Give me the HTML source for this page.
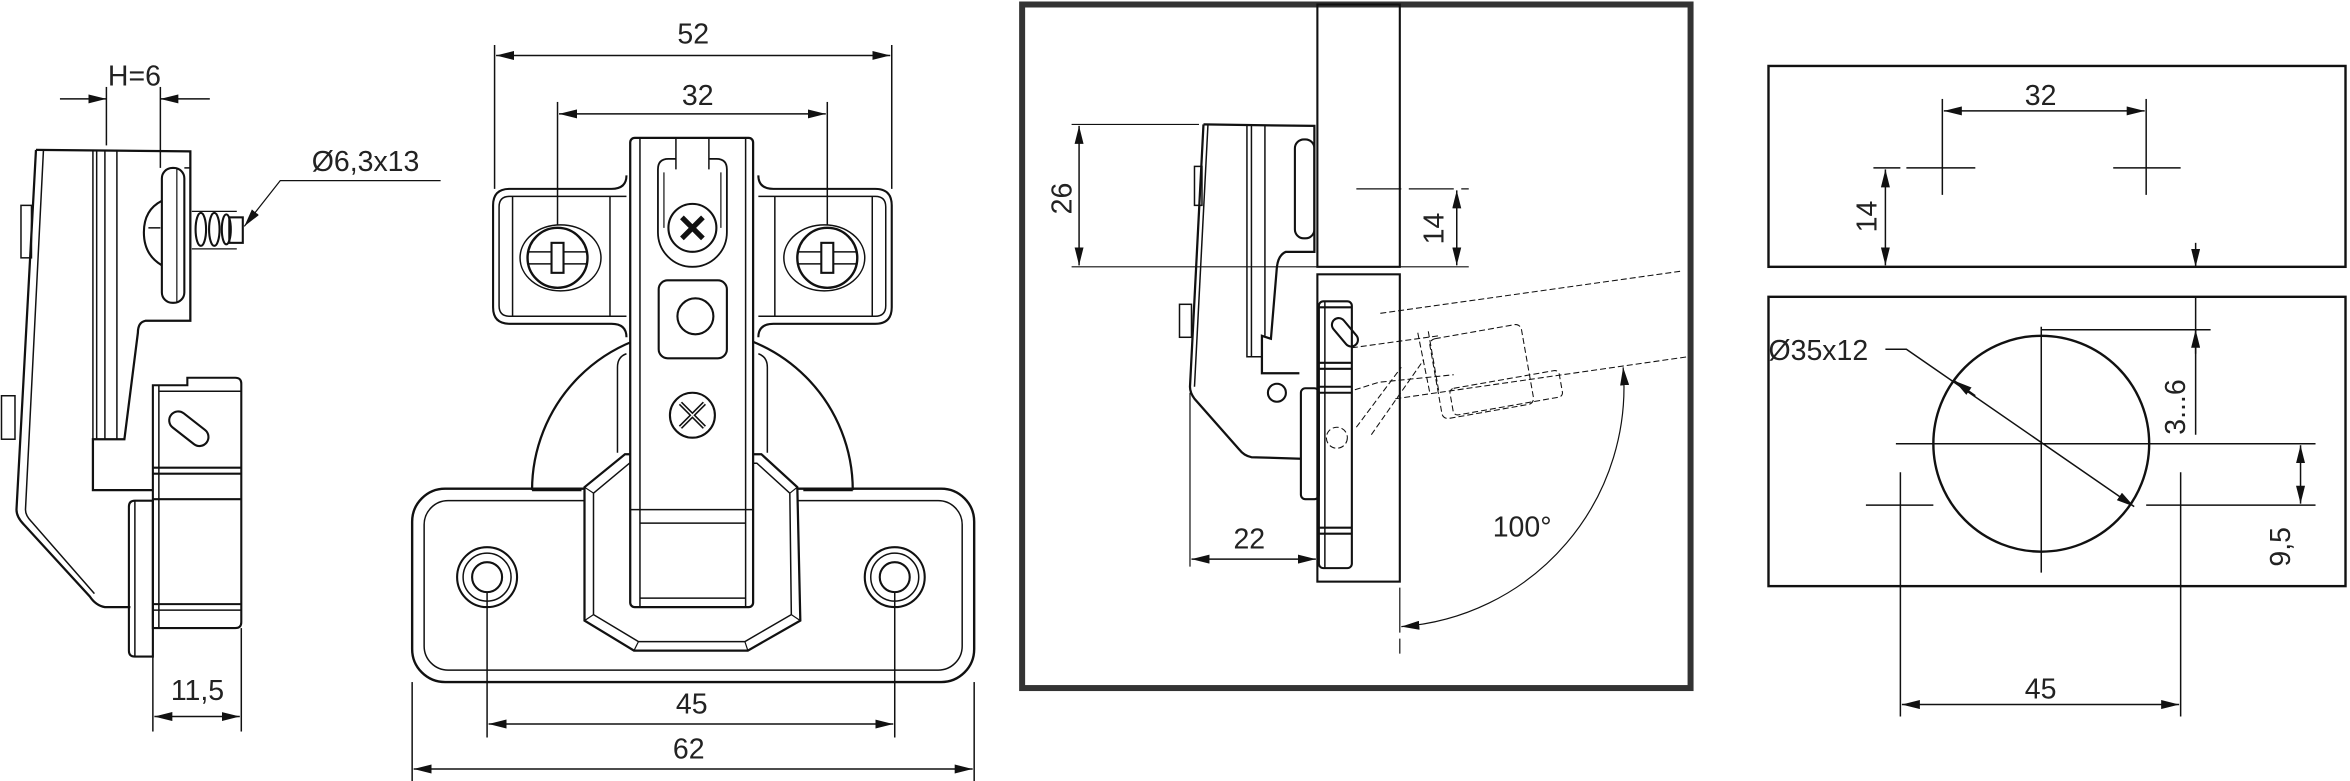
<!DOCTYPE html>
<html><head><meta charset="utf-8"><style>
html,body{margin:0;padding:0;background:#fff;}
svg{display:block;}
text{font-family:"Liberation Sans","DejaVu Sans",sans-serif;fill:#222;}
</style></head><body>
<svg width="2350" height="781" viewBox="0 0 1568 521" preserveAspectRatio="none" xmlns="http://www.w3.org/2000/svg">
<defs>
<marker id="a" viewBox="0 0 12 6" refX="12" refY="3" markerWidth="12" markerHeight="6" orient="auto-start-reverse" markerUnits="userSpaceOnUse"><path d="M0,0L12,3L0,6z" fill="#111"/></marker>
</defs>
<g fill="none" stroke="#111" stroke-width="1.4">
<!-- LEFT SIDE VIEW -->
<line x1="71" y1="58" x2="71" y2="97" stroke-width="1"/>
<line x1="107" y1="58" x2="107" y2="112" stroke-width="1"/>
<line x1="40" y1="66" x2="71" y2="66" marker-end="url(#a)" stroke-width="1"/>
<line x1="140" y1="66" x2="107" y2="66" marker-end="url(#a)" stroke-width="1"/>
<path d="M24,100 L127,101 L127,214 L97,214 Q92,215 92,222 L83,293 L62,293 L62,327 L102,327" stroke-width="1.5"/>
<path d="M24,100 L11,340 Q11,345 16,350 L60,398 Q64,404 70,405 L87,405" stroke-width="1.5"/>
<path d="M29,100 L17,340 Q17,344 21,348 L63,396" stroke-width="1"/>
<path d="M62,100 L62,293 M64.5,100 L64.5,293 M70,100 L70,293 M78,100 L78,293 L83,293" stroke-width="1"/>
<rect x="108" y="112" width="15" height="90" rx="7"/>
<line x1="118" y1="112" x2="118" y2="202" stroke-width="0.8"/>
<line x1="123" y1="112" x2="127" y2="112" stroke-width="1"/>
<path d="M108,134 Q96,140 96,155 Q96,170 108,177" />
<path d="M99,152 L107,152" stroke-width="1"/>
<path d="M128,141 L158,141 M128,166 L158,166" stroke-width="0.8"/>
<ellipse cx="134" cy="153" rx="3.5" ry="11"/><ellipse cx="143" cy="153" rx="3.5" ry="11"/><ellipse cx="151" cy="153" rx="3" ry="10"/>
<rect x="153" y="145" width="9" height="17"/>
<rect x="14" y="137" width="7" height="35" stroke-width="1"/>
<rect x="1" y="264" width="9" height="29" stroke-width="1"/>
<path d="M102,257 L125,257 L125,252 L157,252 Q161,252 161,256 L161,415 Q161,419 157,419 L102,419 Z"/>
<line x1="106" y1="257" x2="106" y2="419" stroke-width="1"/>
<line x1="106" y1="261" x2="161" y2="261" stroke-width="1"/>
<line x1="102" y1="312" x2="161" y2="312"/><line x1="102" y1="316" x2="161" y2="316"/>
<line x1="102" y1="333" x2="161" y2="333"/>
<line x1="102" y1="403" x2="161" y2="403"/><line x1="102" y1="407" x2="161" y2="407" stroke-width="1"/>
<rect x="111" y="280" width="30" height="12" rx="6" transform="rotate(38,126,286)"/>
<path d="M102,334 L90,334 Q86,334 86,338 L86,434 Q86,438 90,438 L102,438 Z"/>
<line x1="90" y1="334" x2="90" y2="438" stroke-width="1"/>
<line x1="102" y1="419" x2="102" y2="488" stroke-width="1"/>
<line x1="161" y1="419" x2="161" y2="488" stroke-width="1"/>
<line x1="103" y1="478" x2="160" y2="478" marker-start="url(#a)" marker-end="url(#a)" stroke-width="1"/>
<path d="M294,120.5 L187,120.5 L163,151" stroke-width="0.8" marker-end="url(#a)"/>

<!-- MIDDLE FRONT VIEW -->
<line x1="330" y1="30" x2="330" y2="126" stroke-width="1"/>
<line x1="595" y1="30" x2="595" y2="126" stroke-width="1"/>
<line x1="331" y1="37" x2="594" y2="37" marker-start="url(#a)" marker-end="url(#a)" stroke-width="1"/>
<line x1="372" y1="68" x2="372" y2="150" stroke-width="1"/>
<line x1="552" y1="68" x2="552" y2="150" stroke-width="1"/>
<line x1="373" y1="76" x2="551" y2="76" marker-start="url(#a)" marker-end="url(#a)" stroke-width="1"/>
<path d="M355,327 A107,107 0 0 1 569,327" stroke-width="1.5"/>
<path d="M412,302 L412,245 Q412,238 418,236 M512,302 L512,245 Q512,238 506,236" stroke-width="1"/>
<path d="M418,117 Q418,126 408,126 L340,126 Q329,126 329,137 L329,205 Q329,216 340,216 L408,216 Q418,216 418,225"/>
<path d="M506,117 Q506,126 516,126 L584,126 Q595,126 595,137 L595,205 Q595,216 584,216 L516,216 Q506,216 506,225"/>
<path d="M418,131 L340,131 Q333,131 333,138 L333,204 Q333,211 340,211 L418,211 M342,131 L342,211 M407,131 L407,211" stroke-width="1"/>
<path d="M506,131 L584,131 Q591,131 591,138 L591,204 Q591,211 584,211 L506,211 M582,131 L582,211 M517,131 L517,211" stroke-width="1"/>
<ellipse cx="374" cy="172" rx="27" ry="22" stroke-width="1"/><circle cx="372" cy="172" r="20" stroke-width="1.6"/>
<line x1="352" y1="168" x2="392" y2="168" stroke-width="1"/><line x1="352" y1="176" x2="392" y2="176" stroke-width="1"/>
<rect x="368" y="162" width="8" height="20" fill="#fff" stroke-width="1.4"/>
<ellipse cx="550" cy="172" rx="27" ry="22" stroke-width="1"/><circle cx="552" cy="172" r="20" stroke-width="1.6"/>
<line x1="532" y1="168" x2="572" y2="168" stroke-width="1"/><line x1="532" y1="176" x2="572" y2="176" stroke-width="1"/>
<rect x="548" y="162" width="8" height="20" fill="#fff" stroke-width="1.4"/>
<path d="M355,327 L388,327" stroke-width="1.5"/><path d="M536,327 L569,327" stroke-width="1.5"/>
<rect x="275" y="326" width="375" height="129" rx="22" stroke-width="1.6"/>
<rect x="283" y="334" width="359" height="113" rx="16" stroke-width="1"/>
<path d="M390,325 L417,303 L508,303 L532,325 L534,414 L499,434 L423,434 L390,414 Z" fill="#fff" stroke-width="1.5"/>
<path d="M396,329 L420,309 L505,309 L527,329 L528,410 L497,428 L426,428 L396,410 Z" stroke-width="1"/>
<path d="M390,325 L396,329 M532,325 L527,329 M390,414 L396,410 M534,414 L528,410 M423,434 L426,428 M499,434 L497,428" stroke-width="0.8"/>
<rect x="420.5" y="92" width="82" height="313" rx="3" fill="#fff" stroke-width="1.5"/>
<path d="M427,92 L427,405 M497.5,92 L497.5,405" stroke-width="1"/>
<path d="M420.5,340 L502.5,340 M427,349 L497.5,349 M427,399 L497.5,399" stroke-width="1"/>
<path d="M451,92 L451,113 M473,92 L473,113" stroke-width="1"/>
<path d="M439,113 L439,155 A23,23 0 0 0 485,155 L485,113 Q485,106 478,106 L473,106 M451,106 L446,106 Q439,106 439,113" stroke-width="1.2"/>
<path d="M443,115 L443,152 M481,115 L481,152" stroke-width="0.8"/>
<circle cx="462" cy="152" r="16" fill="#fff"/>
<path d="M455,145 L469,159 M469,145 L455,159" stroke-width="3.5"/>
<rect x="439.5" y="187" width="45.5" height="52" rx="6"/>
<circle cx="464" cy="211" r="12"/>
<circle cx="462" cy="277" r="15"/>
<path d="M454,269 L470,285 M470,269 L454,285" stroke-width="3"/>
<path d="M454,269 L470,285 M470,269 L454,285" stroke="#fff" stroke-width="0.9"/>
<circle cx="325" cy="385" r="20"/><circle cx="325" cy="385" r="16" stroke-width="1"/><circle cx="325" cy="385" r="10"/>
<circle cx="597" cy="385" r="20"/><circle cx="597" cy="385" r="16" stroke-width="1"/><circle cx="597" cy="385" r="10"/>
<line x1="325" y1="395" x2="325" y2="492" stroke-width="1"/>
<line x1="597" y1="395" x2="597" y2="492" stroke-width="1"/>
<line x1="326" y1="483" x2="596" y2="483" marker-start="url(#a)" marker-end="url(#a)" stroke-width="1"/>
<line x1="275" y1="455" x2="275" y2="521" stroke-width="1"/>
<line x1="650" y1="455" x2="650" y2="521" stroke-width="1"/>
<line x1="276" y1="513" x2="649" y2="513" marker-start="url(#a)" marker-end="url(#a)" stroke-width="1"/>

<!-- BOX -->
<rect x="682" y="3" width="446" height="456" stroke="#333" stroke-width="4"/>
<rect x="879" y="3" width="55" height="175"/>
<rect x="879" y="183" width="55" height="205"/>
<path d="M803,83 L877,84 L877,168 L858,168 Q853,170 852,178 L848,226 L842,224 L842,249 L867,249" stroke-width="1.5"/>
<path d="M803,83 L794,258 Q794,262 797,266 L827,300 Q830,304 835,305 L868,306" stroke-width="1.5"/>
<path d="M806,83 L797,258" stroke-width="1"/>
<path d="M832,84 L832,238 L842,238 M835,84 L835,238 M844,84 L844,224" stroke-width="1"/>
<rect x="864" y="93" width="13" height="66" rx="6"/>
<rect x="797" y="111" width="5" height="26" stroke-width="1"/>
<rect x="787" y="203" width="8" height="22" stroke-width="1"/>
<circle cx="852" cy="262" r="6"/>
<rect x="880" y="201" width="22" height="178" rx="3"/>
<line x1="884" y1="201" x2="884" y2="379" stroke-width="1"/>
<path d="M880,205 L902,205 M880,242 L902,242 M880,246 L902,246 M880,258 L902,258 M880,262 L902,262 M880,352 L902,352 M880,356 L902,356"/>
<rect x="868" y="259" width="12" height="74" rx="3"/>
<rect x="886" y="217" width="22" height="9" rx="4.5" transform="rotate(50,897,222)"/>
<g stroke-width="0.7" stroke-dasharray="4,2">
<path d="M921,209 L1121,181 M931,266 L1126,238"/>
<path d="M902,232 L960,224 M904,260 L920,255 L970,250"/>
<rect x="958" y="221" width="62" height="54" rx="4" transform="rotate(-10,988,250)"/>
<rect x="968" y="253" width="74" height="18" rx="3" transform="rotate(-10,1005,262)"/>
<path d="M946,222 L954,262 M953,221 L960,261"/>
<path d="M905,285 L935,245 M915,290 L950,240"/>
<circle cx="892" cy="292" r="7"/>
</g>
<line x1="715" y1="83" x2="800" y2="83" stroke-width="0.8"/>
<line x1="715" y1="178" x2="980" y2="178" stroke-width="0.8"/>
<line x1="720" y1="84" x2="720" y2="177" marker-start="url(#a)" marker-end="url(#a)" stroke-width="1"/>
<line x1="905" y1="126" x2="980" y2="126" stroke-width="0.8" stroke-dasharray="30,5"/>
<line x1="972" y1="127" x2="972" y2="177" marker-start="url(#a)" marker-end="url(#a)" stroke-width="1"/>
<line x1="794" y1="262" x2="794" y2="378" stroke-width="0.8"/>
<line x1="795" y1="373" x2="878" y2="373" marker-start="url(#a)" marker-end="url(#a)" stroke-width="1"/>
<line x1="934" y1="392" x2="934" y2="436" stroke-width="0.8" stroke-dasharray="30,4"/>
<path d="M935,418 A160,160 0 0 0 1083,245" stroke-width="0.8" marker-start="url(#a)" marker-end="url(#a)"/>

<!-- RIGHT -->
<rect x="1180" y="44" width="385" height="134" stroke-width="1.6"/>
<rect x="1180" y="198" width="385" height="193" stroke-width="1.6"/>
<g stroke-width="1">
<line x1="1296" y1="66" x2="1296" y2="130"/><line x1="1432" y1="66" x2="1432" y2="130"/>
<line x1="1297" y1="74" x2="1431" y2="74" marker-start="url(#a)" marker-end="url(#a)"/>
<line x1="1272" y1="112" x2="1318" y2="112"/><line x1="1410" y1="112" x2="1455" y2="112"/>
<line x1="1250" y1="112" x2="1268" y2="112"/>
<line x1="1258" y1="113" x2="1258" y2="177" marker-start="url(#a)" marker-end="url(#a)"/>
<line x1="1244" y1="178" x2="1270" y2="178"/>
<circle cx="1362" cy="296" r="72" stroke-width="1.6"/>
<line x1="1265" y1="296" x2="1545" y2="296"/>
<line x1="1362" y1="218" x2="1362" y2="382"/>
<line x1="1245" y1="337" x2="1290" y2="337"/><line x1="1268" y1="315" x2="1268" y2="478"/>
<line x1="1432" y1="337" x2="1545" y2="337"/><line x1="1455" y1="315" x2="1455" y2="478"/>
<line x1="1269" y1="470" x2="1454" y2="470" marker-start="url(#a)" marker-end="url(#a)"/>
<line x1="1362" y1="220" x2="1475" y2="220"/>
<line x1="1465" y1="162" x2="1465" y2="178" marker-end="url(#a)"/>
<line x1="1465" y1="236" x2="1465" y2="220" marker-end="url(#a)"/>
<line x1="1465" y1="198" x2="1465" y2="290"/>
<line x1="1535" y1="297" x2="1535" y2="336" marker-start="url(#a)" marker-end="url(#a)"/>
<path d="M1258,233 L1272,233 L1424,338" marker-end="url(#a)"/>
<line x1="1318" y1="264" x2="1304" y2="254" marker-end="url(#a)"/>
</g>
</g>
<g font-size="19">
<text x="72" y="57">H=6</text>
<text x="208" y="114">Ø6,3x13</text>
<text x="114" y="467">11,5</text>
<text x="452" y="29">52</text>
<text x="455" y="70">32</text>
<text x="451" y="476">45</text>
<text x="449" y="506">62</text>
<text x="823" y="366">22</text>
<text x="996" y="358">100°</text>
<text x="1351" y="70">32</text>
<text x="1180" y="240">Ø35x12</text>
<text x="1351" y="466">45</text>
<text transform="translate(715,143) rotate(-90)">26</text>
<text transform="translate(963,163) rotate(-90)">14</text>
<text transform="translate(1252,155) rotate(-90)">14</text>
<text transform="translate(1458,290) rotate(-90)">3...6</text>
<text transform="translate(1528,378) rotate(-90)">9,5</text>
</g>
</svg>
</body></html>
